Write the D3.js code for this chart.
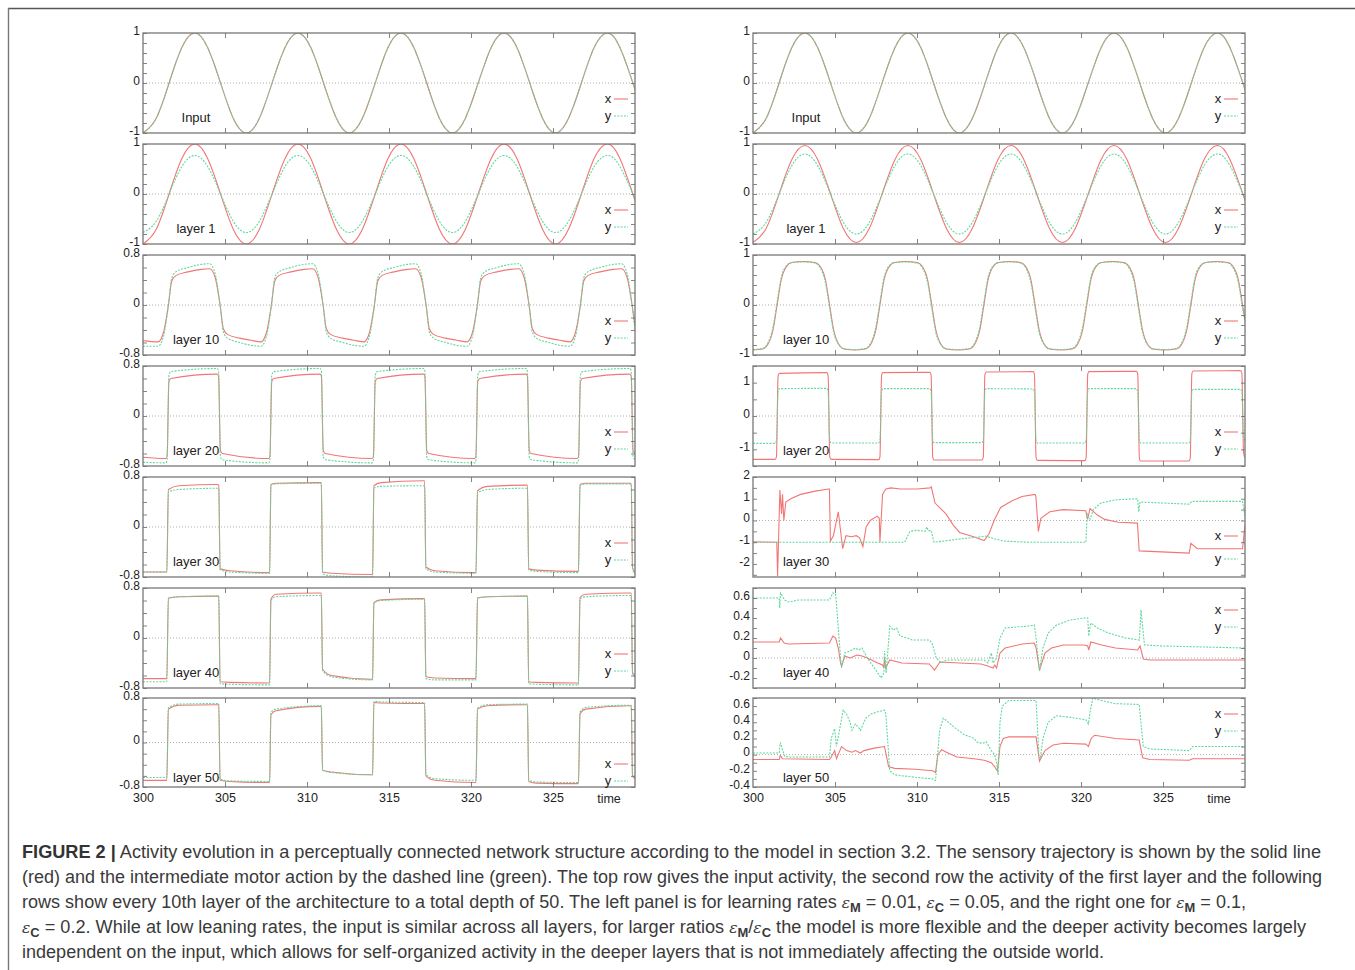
<!DOCTYPE html>
<html>
<head>
<meta charset="utf-8">
<script src="https://cdn.jsdelivr.net/npm/d3@7"></script>
<style>
body { margin: 0; background: #fff; }
svg text { font-family: "Liberation Sans", Arial, sans-serif; fill: #222; }
.cap text { font-family: "Liberation Sans Narrow", "Liberation Sans", sans-serif; fill: #3a3a3a; font-size: 17.5px; }
</style>
</head>
<body>
<svg id="fig" width="1355" height="970"></svg>
<script>
// ---- data (time 300..330) ----

// sine-like rows: shared sample times (eighth periods)
const sineT = [300.0, 300.8, 301.59, 302.37, 303.16, 303.94, 304.73, 305.51, 306.3, 307.09, 307.87, 308.66, 309.44, 310.23, 311.01, 311.8, 312.58, 313.37, 314.16, 314.94, 315.73, 316.51, 317.3, 318.08, 318.87, 319.65, 320.44, 321.23, 322.01, 322.8, 323.58, 324.37, 325.15, 325.94, 326.73, 327.51, 328.3, 329.08, 329.87, 330];
const inputV = [-1, -0.71, 0, 0.71, 1, 0.71, 0, -0.71, -1, -0.71, 0, 0.71, 1, 0.71, 0, -0.71, -1, -0.71, 0, 0.71, 1, 0.71, 0, -0.71, -1, -0.71, 0, 0.71, 1, 0.71, 0, -0.71, -1, -0.71, 0, 0.71, 1, 0.71, 0, -0.13];
const l1xL = [-1, -0.71, 0, 0.71, 1, 0.71, 0, -0.71, -1, -0.71, 0, 0.71, 1, 0.71, 0, -0.71, -1, -0.71, 0, 0.71, 1, 0.71, 0, -0.71, -1, -0.71, 0, 0.71, 1, 0.71, 0, -0.71, -1, -0.71, 0, 0.71, 1, 0.71, 0, -0.13];
const l1yL = [-0.77, -0.55, 0, 0.55, 0.77, 0.55, 0, -0.55, -0.77, -0.55, 0, 0.55, 0.77, 0.55, 0, -0.55, -0.77, -0.55, 0, 0.55, 0.77, 0.55, 0, -0.55, -0.77, -0.55, 0, 0.55, 0.77, 0.55, 0, -0.55, -0.77, -0.55, 0, 0.55, 0.77, 0.55, 0, -0.1];
const l1xR = [-0.97, -0.69, 0, 0.69, 0.97, 0.69, 0, -0.69, -0.97, -0.69, 0, 0.69, 0.97, 0.69, 0, -0.69, -0.97, -0.69, 0, 0.69, 0.97, 0.69, 0, -0.69, -0.97, -0.69, 0, 0.69, 0.97, 0.69, 0, -0.69, -0.97, -0.69, 0, 0.69, 0.97, 0.69, 0, -0.12];
const l1yR = [-0.8, -0.57, 0, 0.57, 0.8, 0.57, 0, -0.57, -0.8, -0.57, 0, 0.57, 0.8, 0.57, 0, -0.57, -0.8, -0.57, 0, 0.57, 0.8, 0.57, 0, -0.57, -0.8, -0.57, 0, 0.57, 0.8, 0.57, 0, -0.57, -0.8, -0.57, 0, 0.57, 0.8, 0.57, 0, -0.1];

// left layer 10
const l10T = [300, 300.91, 301.25, 301.55, 301.75, 302.0, 302.75, 303.55, 304.06, 304.4, 304.7, 304.9, 305.15, 305.9, 306.7, 307.19, 307.53, 307.83, 308.03, 308.28, 309.03, 309.83, 310.34, 310.68, 310.98, 311.18, 311.43, 312.18, 312.98, 313.47, 313.81, 314.11, 314.31, 314.56, 315.31, 316.11, 316.62, 316.96, 317.26, 317.46, 317.71, 318.46, 319.26, 319.75, 320.09, 320.39, 320.59, 320.84, 321.59, 322.39, 322.9, 323.24, 323.54, 323.74, 323.99, 324.74, 325.54, 326.03, 326.37, 326.67, 326.87, 327.12, 327.87, 328.67, 329.18, 329.52, 329.82, 330];
const l10xL = [-0.57, -0.59, -0.44, 0, 0.38, 0.47, 0.53, 0.57, 0.58, 0.44, 0, -0.38, -0.47, -0.53, -0.57, -0.59, -0.44, 0, 0.38, 0.47, 0.53, 0.57, 0.58, 0.44, 0, -0.38, -0.47, -0.53, -0.57, -0.59, -0.44, 0, 0.38, 0.47, 0.53, 0.57, 0.58, 0.44, 0, -0.38, -0.47, -0.53, -0.57, -0.59, -0.44, 0, 0.38, 0.47, 0.53, 0.57, 0.58, 0.44, 0, -0.38, -0.47, -0.53, -0.57, -0.59, -0.44, 0, 0.38, 0.47, 0.53, 0.57, 0.58, 0.44, 0, -0.34];
const l10yL = [-0.66, -0.66, -0.5, 0, 0.43, 0.53, 0.6, 0.65, 0.66, 0.5, 0, -0.43, -0.53, -0.6, -0.65, -0.66, -0.5, 0, 0.43, 0.53, 0.6, 0.65, 0.66, 0.5, 0, -0.43, -0.53, -0.6, -0.65, -0.66, -0.5, 0, 0.43, 0.53, 0.6, 0.65, 0.66, 0.5, 0, -0.43, -0.53, -0.6, -0.65, -0.66, -0.5, 0, 0.43, 0.53, 0.6, 0.65, 0.66, 0.5, 0, -0.43, -0.53, -0.6, -0.65, -0.66, -0.5, 0, 0.43, 0.53, 0.6, 0.65, 0.66, 0.5, 0, -0.4];

// left layer 20
const l20T = [300, 301.4, 301.47, 301.58, 301.7, 304.54, 304.61, 304.72, 304.84, 307.67, 307.74, 307.85, 307.97, 310.81, 310.88, 310.99, 311.11, 313.98, 314.05, 314.16, 314.28, 317.12, 317.19, 317.3, 317.42, 320.23, 320.3, 320.41, 320.53, 323.37, 323.44, 323.55, 323.67, 326.49, 326.56, 326.67, 326.79, 329.7, 329.77, 329.88, 330];
const l20xL = [-0.66, -0.68, -0.64, 0.55, 0.6, 0.67, 0.63, -0.55, -0.6, -0.68, -0.64, 0.55, 0.6, 0.67, 0.63, -0.55, -0.6, -0.68, -0.64, 0.55, 0.6, 0.67, 0.63, -0.55, -0.6, -0.68, -0.64, 0.55, 0.6, 0.67, 0.63, -0.55, -0.6, -0.68, -0.64, 0.55, 0.6, 0.67, 0.63, -0.55, -0.6];
const l20yL = [-0.74, -0.75, -0.7, 0.65, 0.71, 0.76, 0.71, -0.65, -0.7, -0.75, -0.7, 0.65, 0.71, 0.76, 0.71, -0.65, -0.7, -0.75, -0.7, 0.65, 0.71, 0.76, 0.71, -0.65, -0.7, -0.75, -0.7, 0.65, 0.71, 0.76, 0.71, -0.65, -0.7, -0.75, -0.7, 0.65, 0.71, 0.76, 0.71, -0.65, -0.7];

// left layers 30, 40, 50 share switching times
const sqT = [300, 301.45, 301.55, 302.2, 304.55, 304.62, 304.7, 305.3, 307.65, 307.72, 307.8, 308.1, 310.8, 310.87, 310.95, 311.5, 313.95, 314.0, 314.08, 314.5, 317.1, 317.17, 317.25, 317.8, 320.25, 320.3, 320.4, 321.0, 323.38, 323.44, 323.52, 324.0, 326.5, 326.55, 326.65, 327.0, 329.7, 329.77, 329.85, 330];
const l30xL = [-0.72, -0.72, 0.6, 0.66, 0.68, 0.67, -0.67, -0.7, -0.73, -0.73, 0.68, 0.7, 0.71, 0.71, -0.72, -0.74, -0.76, -0.76, 0.66, 0.71, 0.74, 0.74, -0.64, -0.7, -0.73, -0.73, 0.58, 0.65, 0.67, 0.67, -0.67, -0.69, -0.71, -0.71, 0.68, 0.7, 0.7, 0.7, -0.65, -0.72];
const l30yL = [-0.72, -0.72, 0.56, 0.6, 0.62, 0.61, -0.68, -0.72, -0.74, -0.74, 0.67, 0.69, 0.7, 0.7, -0.75, -0.78, -0.8, -0.8, 0.62, 0.65, 0.66, 0.66, -0.67, -0.72, -0.74, -0.74, 0.55, 0.6, 0.62, 0.62, -0.69, -0.71, -0.73, -0.73, 0.67, 0.69, 0.69, 0.69, -0.68, -0.75];
const l40xL = [-0.65, -0.65, 0.64, 0.66, 0.67, 0.67, -0.7, -0.71, -0.72, -0.72, 0.62, 0.7, 0.72, 0.72, -0.5, -0.6, -0.66, -0.66, 0.57, 0.61, 0.63, 0.63, -0.62, -0.64, -0.65, -0.65, 0.64, 0.66, 0.67, 0.67, -0.7, -0.71, -0.72, -0.72, 0.65, 0.7, 0.72, 0.72, -0.55, -0.6];
const l40yL = [-0.7, -0.7, 0.64, 0.66, 0.67, 0.67, -0.73, -0.74, -0.75, -0.75, 0.6, 0.66, 0.68, 0.68, -0.52, -0.62, -0.67, -0.67, 0.56, 0.6, 0.62, 0.62, -0.65, -0.67, -0.67, -0.67, 0.64, 0.66, 0.67, 0.67, -0.73, -0.74, -0.75, -0.75, 0.63, 0.66, 0.68, 0.68, -0.58, -0.62];
const l50xL = [-0.68, -0.68, 0.6, 0.67, 0.68, 0.68, -0.68, -0.7, -0.72, -0.72, 0.5, 0.57, 0.65, 0.65, -0.5, -0.53, -0.58, -0.58, 0.72, 0.71, 0.7, 0.7, -0.6, -0.68, -0.72, -0.72, 0.6, 0.66, 0.68, 0.68, -0.7, -0.73, -0.74, -0.74, 0.52, 0.6, 0.66, 0.66, -0.6, -0.65];
const l50yL = [-0.63, -0.63, 0.63, 0.69, 0.7, 0.7, -0.66, -0.69, -0.7, -0.7, 0.54, 0.6, 0.66, 0.66, -0.5, -0.54, -0.58, -0.58, 0.74, 0.73, 0.72, 0.72, -0.58, -0.65, -0.68, -0.68, 0.62, 0.68, 0.69, 0.69, -0.68, -0.71, -0.72, -0.72, 0.55, 0.63, 0.67, 0.67, -0.58, -0.62];

// right layer 10
const l10TR = [300, 300.57, 300.92, 301.22, 301.47, 301.72, 302.02, 302.37, 303.07, 303.77, 304.12, 304.42, 304.67, 304.92, 305.22, 305.57, 306.2, 306.84, 307.19, 307.49, 307.74, 307.99, 308.29, 308.64, 309.32, 310.0, 310.35, 310.65, 310.9, 311.15, 311.45, 311.8, 312.49, 313.18, 313.53, 313.83, 314.08, 314.33, 314.63, 314.98, 315.64, 316.3, 316.65, 316.95, 317.2, 317.45, 317.75, 318.1, 318.78, 319.45, 319.8, 320.1, 320.35, 320.6, 320.9, 321.25, 321.92, 322.6, 322.95, 323.25, 323.5, 323.75, 324.05, 324.4, 325.1, 325.8, 326.15, 326.45, 326.7, 326.95, 327.25, 327.6, 328.27, 328.95, 329.3, 329.6, 329.85, 330];
const l10xR = [-0.9, -0.88, -0.78, -0.5, 0, 0.5, 0.76, 0.85, 0.87, 0.85, 0.76, 0.5, 0, -0.5, -0.78, -0.88, -0.9, -0.88, -0.78, -0.5, 0, 0.5, 0.76, 0.85, 0.87, 0.85, 0.76, 0.5, 0, -0.5, -0.78, -0.88, -0.9, -0.88, -0.78, -0.5, 0, 0.5, 0.76, 0.85, 0.87, 0.85, 0.76, 0.5, 0, -0.5, -0.78, -0.88, -0.9, -0.88, -0.78, -0.5, 0, 0.5, 0.76, 0.85, 0.87, 0.85, 0.76, 0.5, 0, -0.5, -0.78, -0.88, -0.9, -0.88, -0.78, -0.5, 0, 0.5, 0.76, 0.85, 0.87, 0.85, 0.76, 0.5, 0, -0.3];
const l10yR = [-0.89, -0.87, -0.75, -0.44, 0.06, 0.55, 0.78, 0.85, 0.86, 0.84, 0.73, 0.44, -0.06, -0.55, -0.79, -0.88, -0.89, -0.87, -0.75, -0.44, 0.06, 0.55, 0.78, 0.85, 0.86, 0.84, 0.73, 0.44, -0.06, -0.55, -0.79, -0.88, -0.89, -0.87, -0.75, -0.44, 0.06, 0.55, 0.78, 0.85, 0.86, 0.84, 0.73, 0.44, -0.06, -0.55, -0.79, -0.88, -0.89, -0.87, -0.75, -0.44, 0.06, 0.55, 0.78, 0.85, 0.86, 0.84, 0.73, 0.44, -0.06, -0.55, -0.79, -0.88, -0.89, -0.87, -0.75, -0.44, 0.06, 0.55, 0.78, 0.85, 0.86, 0.84, 0.73, 0.44, -0.06, -0.35];

// right layer 20
const l20TR = [300, 301.35, 301.43, 301.53, 301.61, 304.5, 304.58, 304.68, 304.76, 307.66, 307.74, 307.84, 307.92, 310.78, 310.86, 310.96, 311.04, 313.96, 314.04, 314.14, 314.22, 317.08, 317.16, 317.26, 317.34, 320.23, 320.31, 320.41, 320.49, 323.38, 323.46, 323.56, 323.64, 326.58, 326.66, 326.76, 326.84, 329.73, 329.81, 329.91, 330];
const l20xR = [-1.3, -1.3, -1.22, 1.2, 1.28, 1.3, 1.22, -1.22, -1.3, -1.31, -1.23, 1.22, 1.3, 1.31, 1.23, -1.24, -1.32, -1.32, -1.24, 1.24, 1.32, 1.33, 1.25, -1.25, -1.33, -1.34, -1.26, 1.25, 1.33, 1.34, 1.26, -1.27, -1.35, -1.35, -1.27, 1.27, 1.35, 1.36, 1.28, -1.1, -1.25];
const l20yR = [-0.82, -0.82, -0.72, 0.72, 0.82, 0.83, 0.73, -0.72, -0.81, -0.81, -0.72, 0.72, 0.82, 0.82, 0.72, -0.72, -0.8, -0.8, -0.71, 0.72, 0.82, 0.81, 0.72, -0.72, -0.81, -0.81, -0.72, 0.72, 0.82, 0.82, 0.72, -0.72, -0.81, -0.81, -0.72, 0.72, 0.8, 0.8, 0.72, -0.6, -0.75];

// right layer 30 [time, value]
const l30xR = [[300, -0.98], [301.45, -1.0], [301.5, -2.55], [301.64, 1.4], [301.74, 0.3], [301.8, 1.2], [301.88, 0.0], [302.0, 0.85], [302.3, 1.0], [302.9, 1.2], [303.8, 1.35], [304.6, 1.45], [304.66, 1.45], [304.72, -0.95], [304.9, -0.7], [305.2, 0.4], [305.47, -1.3], [305.67, -0.7], [306.0, -0.75], [306.3, -0.7], [306.5, -0.8], [306.7, -1.2], [306.9, -0.3], [307.15, 0.0], [307.57, 0.2], [307.7, 0.1], [307.74, -1.0], [307.9, 1.2], [308.1, 1.45], [308.4, 1.5], [309.0, 1.45], [310.0, 1.45], [310.8, 1.5], [310.87, 1.55], [311.1, 0.8], [311.77, 0.3], [312.2, -0.2], [312.6, -0.55], [313.45, -0.75], [314.1, -0.92], [314.4, -0.6], [314.7, 0.0], [315.1, 0.6], [315.77, 0.9], [316.4, 1.1], [317.2, 1.2], [317.25, 1.1], [317.4, -0.5], [317.55, 0.1], [318.1, 0.4], [318.9, 0.5], [320.29, 0.45], [320.4, 0.05], [320.55, 0.55], [321.0, 0.25], [321.44, 0.05], [322.28, -0.08], [323.44, -0.12], [323.55, -1.4], [326.6, -1.5], [326.7, -1.05], [327.1, -1.3], [329.85, -1.3], [330, -0.2]];
const l30yR = [[300, -1.0], [309.25, -1.0], [309.57, -0.5], [310.0, -0.45], [310.5, -0.5], [310.6, -0.3], [310.7, -0.48], [310.85, -0.45], [311.04, -1.0], [311.6, -0.95], [312.6, -0.85], [313.9, -0.75], [314.2, -0.72], [314.74, -0.85], [315.35, -0.95], [316.8, -1.0], [320.3, -1.0], [320.38, 0.3], [320.55, 0.05], [320.75, 0.5], [321.2, 0.8], [322.1, 0.95], [323.45, 1.0], [323.52, 0.4], [323.6, 0.85], [326.6, 0.75], [326.75, 0.88], [329.85, 0.88], [330, 0.2]];

// right layer 40
const l40xR = [[300, 0.16], [301.6, 0.16], [301.68, 0.2], [301.9, 0.15], [302.15, 0.14], [304.66, 0.15], [304.87, 0.22], [305.04, 0.2], [305.2, 0.1], [305.34, -0.05], [305.4, -0.08], [305.6, 0.02], [305.92, 0.0], [306.34, 0.03], [306.65, 0.02], [306.97, 0.0], [307.6, -0.05], [307.9, -0.07], [307.98, -0.1], [308.02, 0.0], [308.09, -0.1], [308.34, -0.02], [309.07, -0.05], [310.75, -0.06], [311.07, -0.12], [311.4, -0.04], [312.6, -0.05], [313.9, -0.06], [314.32, -0.08], [314.64, -0.1], [314.74, -0.07], [314.85, -0.1], [315.06, 0.05], [315.37, 0.1], [316.42, 0.14], [317.15, 0.15], [317.26, 0.1], [317.47, -0.12], [317.8, 0.05], [318.2, 0.1], [318.94, 0.13], [320.2, 0.13], [320.41, 0.12], [320.47, 0.08], [320.6, 0.16], [321.25, 0.13], [322.1, 0.1], [323.45, 0.08], [323.6, 0.12], [323.8, -0.01], [324.2, -0.02], [330, -0.02]];
const l40yR = [[300, 0.6], [301.6, 0.6], [301.63, 0.5], [301.68, 0.65], [301.93, 0.58], [302.15, 0.56], [302.8, 0.58], [304.66, 0.58], [304.87, 0.65], [305.04, 0.64], [305.2, 0.3], [305.34, 0.0], [305.4, -0.1], [305.6, 0.05], [305.92, 0.07], [306.24, 0.1], [306.44, 0.08], [306.65, 0.1], [306.97, 0.0], [307.4, -0.1], [307.81, -0.2], [307.98, -0.15], [308.02, 0.07], [308.12, -0.15], [308.34, 0.32], [308.55, 0.28], [308.76, 0.3], [308.97, 0.22], [309.4, 0.2], [309.7, 0.18], [310.75, 0.18], [310.92, 0.15], [311.17, 0.0], [311.5, -0.05], [311.8, -0.02], [314.1, -0.02], [314.32, -0.05], [314.53, 0.05], [314.64, -0.05], [314.85, 0.0], [315.06, 0.2], [315.37, 0.3], [316.84, 0.32], [317.15, 0.33], [317.26, 0.2], [317.47, -0.13], [317.68, 0.1], [318.0, 0.25], [318.5, 0.33], [319.36, 0.38], [320.2, 0.4], [320.41, 0.4], [320.47, 0.22], [320.6, 0.35], [321.0, 0.3], [321.67, 0.25], [322.72, 0.2], [323.56, 0.18], [323.66, 0.48], [323.87, 0.13], [325, 0.12], [330, 0.1]];

// right layer 50
const l50xR = [[300, -0.06], [301.6, -0.06], [301.66, -0.01], [301.8, -0.05], [304.66, -0.06], [304.77, -0.03], [304.98, 0.05], [305.09, -0.05], [305.4, 0.1], [305.71, 0.05], [306.03, 0.03], [306.24, 0.05], [306.55, 0.02], [306.76, 0.05], [307.39, 0.08], [308.02, 0.1], [308.27, -0.15], [308.65, -0.17], [309.9, -0.18], [310.96, -0.2], [311.13, -0.22], [311.27, 0.0], [311.5, 0.06], [311.8, 0.03], [312.43, -0.03], [313.48, -0.05], [314.1, -0.07], [314.53, -0.1], [314.74, -0.15], [314.9, -0.2], [315.06, 0.1], [315.26, 0.2], [315.6, 0.22], [317.26, 0.22], [317.47, -0.08], [317.8, 0.05], [318.3, 0.12], [318.94, 0.14], [320.3, 0.13], [320.45, 0.1], [320.62, 0.2], [320.83, 0.24], [322.1, 0.2], [323.55, 0.18], [323.76, -0.04], [324.2, -0.06], [326.6, -0.07], [326.81, -0.05], [330, -0.05]];
const l50yR = [[300, 0.02], [301.6, 0.02], [301.66, 0.15], [301.93, -0.02], [302.15, -0.03], [304.66, -0.03], [304.77, 0.2], [304.98, 0.32], [305.09, 0.1], [305.5, 0.55], [305.71, 0.5], [305.92, 0.4], [306.03, 0.3], [306.24, 0.38], [306.45, 0.33], [306.55, 0.3], [306.87, 0.45], [307.18, 0.5], [307.6, 0.53], [308.02, 0.55], [308.1, 0.5], [308.34, -0.2], [308.65, -0.25], [309.9, -0.28], [310.96, -0.3], [311.13, -0.32], [311.38, 0.3], [311.6, 0.45], [311.8, 0.42], [312.2, 0.35], [312.85, 0.25], [313.48, 0.2], [313.69, 0.15], [314.0, 0.14], [314.22, 0.16], [314.53, 0.05], [314.74, 0.0], [314.85, -0.1], [314.95, -0.25], [315.06, 0.4], [315.2, 0.6], [315.6, 0.67], [317.26, 0.67], [317.43, 0.0], [317.52, -0.05], [317.68, 0.2], [318.0, 0.4], [318.5, 0.48], [319.36, 0.46], [320.3, 0.43], [320.45, 0.38], [320.57, 0.55], [320.72, 0.7], [321.0, 0.68], [322.1, 0.63], [323.55, 0.62], [323.8, 0.1], [324.2, 0.07], [326.6, 0.05], [326.81, 0.1], [330, 0.1]];

const xTicks = [300, 305, 310, 315, 320, 325];
const rowLabels = ["Input", "layer 1", "layer 10", "layer 20", "layer 30", "layer 40", "layer 50"];

// ---- layout ----
const svg = d3.select("#fig");
const COLS = [{ x0: 143, x1: 635 }, { x0: 753, x1: 1245 }];
const TOPS = [33, 144, 255, 366, 477, 588, 698];
const HS = [100, 100, 100, 100, 100, 100, 89];
const RED = "#f27676", GREEN = "#5fd89c";

const zip = (t, v) => t.map((d, i) => [d, v[i]]);
const pm08 = { dom: [-0.8, 0.8], labels: [-0.8, 0, 0.8], minor: 0.2 };
const pm1 = { dom: [-1, 1], labels: [-1, 0, 1], minor: 0.2 };

const panels = [
  [
    { ...pm1, curve: d3.curveNatural, x: zip(sineT, inputV), y: zip(sineT, inputV) },
    { ...pm1, curve: d3.curveNatural, x: zip(sineT, l1xL), y: zip(sineT, l1yL) },
    { ...pm08, curve: d3.curveMonotoneX, x: zip(l10T, l10xL), y: zip(l10T, l10yL) },
    { ...pm08, curve: d3.curveMonotoneX, x: zip(l20T, l20xL), y: zip(l20T, l20yL) },
    { ...pm08, curve: d3.curveMonotoneX, x: zip(sqT, l30xL), y: zip(sqT, l30yL) },
    { ...pm08, curve: d3.curveMonotoneX, x: zip(sqT, l40xL), y: zip(sqT, l40yL) },
    { ...pm08, curve: d3.curveMonotoneX, x: zip(sqT, l50xL), y: zip(sqT, l50yL) }
  ],
  [
    { ...pm1, curve: d3.curveNatural, x: zip(sineT, inputV), y: zip(sineT, inputV) },
    { ...pm1, curve: d3.curveNatural, x: zip(sineT, l1xR), y: zip(sineT, l1yR) },
    { ...pm1, curve: d3.curveMonotoneX, x: zip(l10TR, l10xR), y: zip(l10TR, l10yR) },
    { dom: [-1.5, 1.5], labels: [-1, 0, 1], minor: 0.5, curve: d3.curveMonotoneX, x: zip(l20TR, l20xR), y: zip(l20TR, l20yR) },
    { dom: [-2.6, 2], labels: [-2, -1, 0, 1, 2], minor: 0.5, curve: d3.curveLinear, x: l30xR, y: l30yR, leg: [58, 81] },
    { dom: [-0.3, 0.7], labels: [-0.2, 0, 0.2, 0.4, 0.6], minor: 0.1, curve: d3.curveLinear, x: l40xR, y: l40yR, leg: [21, 38] },
    { dom: [-0.4, 0.7], labels: [-0.4, -0.2, 0, 0.2, 0.4, 0.6], minor: 0.1, curve: d3.curveLinear, x: l50xR, y: l50yR, leg: [15, 32] }
  ]
];

panels.forEach((col, c) => {
  const { x0, x1 } = COLS[c];
  const x = d3.scaleLinear().domain([300, 330]).range([x0, x1]);
  col.forEach((p, r) => {
    const top = TOPS[r], h = HS[r];
    const y = d3.scaleLinear().domain(p.dom).range([top + h, top]);
    const g = svg.append("g");
    const cid = `clip${c}${r}`;
    g.append("clipPath").attr("id", cid).append("rect")
      .attr("x", x0).attr("y", top).attr("width", x1 - x0).attr("height", h);

    // zero line
    g.append("line").attr("x1", x0).attr("x2", x1).attr("y1", y(0)).attr("y2", y(0))
      .attr("stroke", "#9a9a9a").attr("stroke-width", 0.8).attr("stroke-dasharray", "1,2");

    const line = d3.line().x(d => x(d[0])).y(d => y(d[1])).curve(p.curve);
    const lines = g.append("g").attr("clip-path", `url(#${cid})`);
    lines.append("path").attr("d", line(p.x)).attr("fill", "none")
      .attr("stroke", RED).attr("stroke-width", 1.1);
    lines.append("path").attr("d", line(p.y)).attr("fill", "none")
      .attr("stroke", GREEN).attr("stroke-width", 1.1).attr("stroke-dasharray", "2,1.3");

    // tick marks (inside)
    const minor = d3.range(Math.ceil(p.dom[0] / p.minor - 1e-6) * p.minor, p.dom[1] + 1e-6, p.minor);
    const tickStyle = sel => {
      sel.select(".domain").remove();
      sel.selectAll("line").attr("stroke", "#666").attr("stroke-width", 0.8);
    };
    g.append("g").attr("transform", `translate(${x0},0)`)
      .call(d3.axisLeft(y).tickValues(minor).tickSize(-4).tickFormat("")).call(tickStyle);
    g.append("g").attr("transform", `translate(${x1},0)`)
      .call(d3.axisRight(y).tickValues(minor).tickSize(-4).tickFormat("")).call(tickStyle);
    g.append("g").attr("transform", `translate(0,${top + h})`)
      .call(d3.axisBottom(x).tickValues(xTicks.slice(1)).tickSize(-5).tickFormat("")).call(tickStyle);
    g.append("g").attr("transform", `translate(0,${top})`)
      .call(d3.axisTop(x).tickValues(xTicks.slice(1)).tickSize(-5).tickFormat("")).call(tickStyle);

    // frame
    g.append("rect").attr("x", x0).attr("y", top).attr("width", x1 - x0).attr("height", h)
      .attr("fill", "none").attr("stroke", "#777").attr("stroke-width", 1.3);

    // y labels (sit a little above their ticks, as in the original)
    const ya = g.append("g").attr("transform", `translate(${x0},-2.5)`)
      .call(d3.axisLeft(y).tickValues(p.labels).tickSize(0).tickPadding(3).tickFormat(d => String(d)));
    ya.select(".domain").remove();
    ya.attr("font-family", null).attr("font-size", null);
    ya.selectAll("text").attr("font-size", 12).attr("fill", "#222");

    // row label
    g.append("text").attr("x", x0 + 53).attr("y", top + (r === 6 ? 84 : 89))
      .attr("text-anchor", "middle").attr("font-size", 13).text(rowLabels[r]);

    // legend
    const leg = p.leg || [65, 82];
    ["x", "y"].forEach((k, i) => {
      const ly = top + leg[i];
      g.append("text").attr("x", x1 - 27).attr("y", ly + 4.5).attr("text-anchor", "middle")
        .attr("font-size", 13).text(k);
      g.append("line").attr("x1", x1 - 21).attr("x2", x1 - 7).attr("y1", ly + 1).attr("y2", ly + 1)
        .attr("stroke", i ? GREEN : RED).attr("stroke-width", 1.1)
        .attr("stroke-dasharray", i ? "2,1.3" : null);
    });

    // x labels on the last row
    if (r === 6) {
      const xa = g.append("g").attr("transform", `translate(0,${top + h})`)
        .call(d3.axisBottom(x).tickValues(xTicks).tickSize(0).tickPadding(6));
      xa.select(".domain").remove();
      xa.attr("font-family", null).attr("font-size", null);
      xa.selectAll("text").attr("font-size", 12.5).attr("fill", "#222");
      g.append("text").attr("x", x1 - 26).attr("y", top + h + 16).attr("text-anchor", "middle")
        .attr("font-size", 12.5).text("time");
    }
  });
});

// figure border (top and left)
svg.append("line").attr("x1", 8).attr("x2", 1355).attr("y1", 8.5).attr("y2", 8.5)
  .attr("stroke", "#555").attr("stroke-width", 1.6);
svg.append("line").attr("x1", 8.5).attr("x2", 8.5).attr("y1", 8).attr("y2", 970)
  .attr("stroke", "#777").attr("stroke-width", 1.4);

// ---- caption ----
const capLines = [
  [["FIGURE 2 |", "b"], [" Activity evolution in a perceptually connected network structure according to the model in section 3.2. The sensory trajectory is shown by the solid line", ""]],
  [["(red) and the intermediate motor action by the dashed line (green). The top row gives the input activity, the second row the activity of the first layer and the following", ""]],
  [["rows show every 10th layer of the architecture to a total depth of 50. The left panel is for learning rates ", ""], ["ε", "e"], ["M", "s"], [" = 0.01, ", ""], ["ε", "e"], ["C", "s"], [" = 0.05, and the right one for ", ""], ["ε", "e"], ["M", "s"], [" = 0.1,", ""]],
  [["ε", "e"], ["C", "s"], [" = 0.2. While at low leaning rates, the input is similar across all layers, for larger ratios ", ""], ["ε", "e"], ["M", "s"], ["/", ""], ["ε", "e"], ["C", "s"], [" the model is more flexible and the deeper activity becomes largely", ""]],
  [["independent on the input, which allows for self-organized activity in the deeper layers that is not immediately affecting the outside world.", ""]]
];
const capWidths = [1299, 1300, 1224, 1284, 1082];
const cap = svg.append("g").attr("class", "cap");
capLines.forEach((segs, i) => {
  const t = cap.append("text").attr("x", 22).attr("y", 858 + i * 25)
    .attr("textLength", capWidths[i]).attr("lengthAdjust", "spacingAndGlyphs");
  let down = false;
  segs.forEach(([s, k]) => {
    const ts = t.append("tspan").text(s);
    if (k === "b") ts.attr("font-weight", "bold").attr("fill", "#333");
    if (k === "e") ts.attr("font-family", "DejaVu Serif, serif").attr("font-style", "italic").attr("font-size", 15);
    if (k === "s") { ts.attr("font-weight", "bold").attr("font-size", 12.5).attr("dy", 4); down = true; }
    else if (down) { ts.attr("dy", -4); down = false; }
  });
});
</script>
</body>
</html>
